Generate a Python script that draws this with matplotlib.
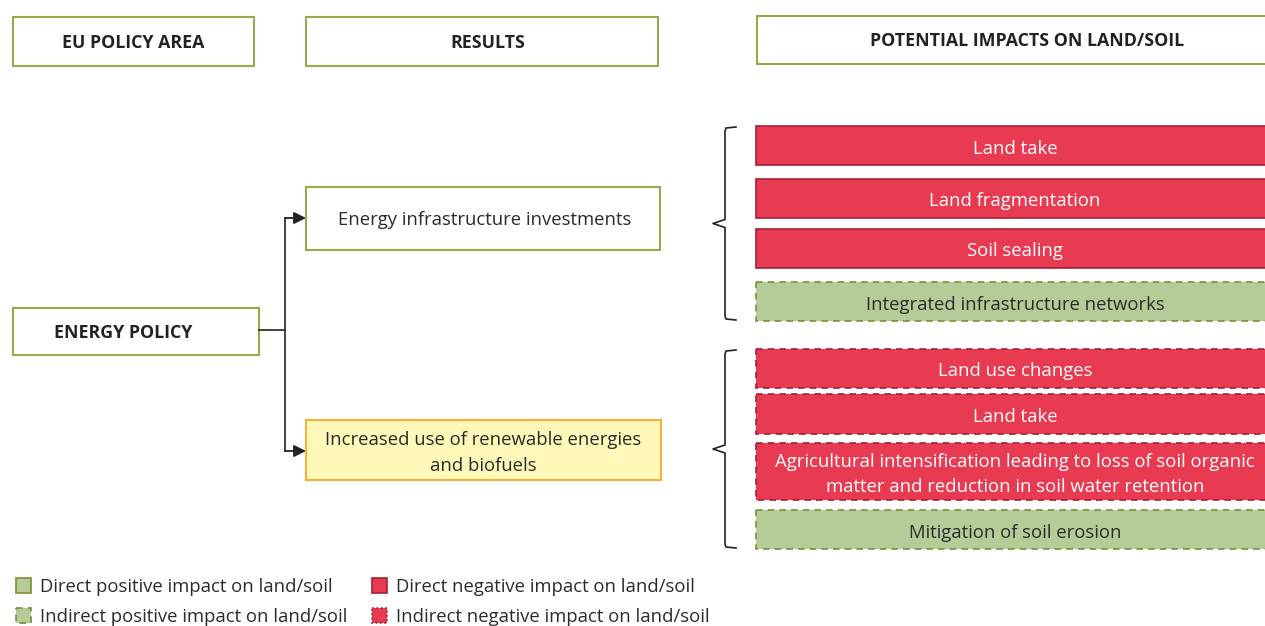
import matplotlib.pyplot as plt
from matplotlib.patches import Rectangle

plt.rcParams['font.family'] = ['Open Sans', 'DejaVu Sans']

# chart content
headers = ['EU POLICY AREA', 'RESULTS', 'POTENTIAL IMPACTS ON LAND/SOIL']
policy = 'ENERGY POLICY'
results = ['Energy infrastructure investments',
           'Increased use of renewable energies\nand biofuels']
impacts = ['Land take', 'Land fragmentation', 'Soil sealing',
           'Integrated infrastructure networks',
           'Land use changes', 'Land take',
           'Agricultural intensification leading to loss of soil organic\nmatter and reduction in soil water retention',
           'Mitigation of soil erosion']
impact_types = ['dn', 'dn', 'dn', 'ip', 'in', 'in', 'in', 'ip']
impact_group = [0, 0, 0, 0, 1, 1, 1, 1]
legend_labels = ['Direct positive impact on land/soil', 'Direct negative impact on land/soil',
                 'Indirect positive impact on land/soil', 'Indirect negative impact on land/soil']
legend_types = ['dp', 'dn', 'ip', 'in']

RED = '#e83a50'
RED_EDGE = '#a3203a'
GREEN = '#b4cc98'
GREEN_EDGE = '#7b8f36'
HEAD_EDGE = '#95ab50'
TXT = '#2b2b2b'
FS = 13.3

styles = {
    'dp': dict(fc=GREEN, ec=GREEN_EDGE, ls='-', tc=TXT),
    'dn': dict(fc=RED, ec=RED_EDGE, ls='-', tc='white'),
    'ip': dict(fc=GREEN, ec=GREEN_EDGE, ls=(0, (4, 3)), tc=TXT),
    'in': dict(fc=RED, ec=RED_EDGE, ls=(0, (4, 3)), tc='white'),
}

fig = plt.figure(figsize=(12.65, 6.26), dpi=100)
ax = fig.add_axes([0, 0, 1, 1])
ax.set_xlim(0, 1265)
ax.set_ylim(626, 0)
ax.axis('off')


def box(x0, y0, x1, y1, fc='white', ec=HEAD_EDGE, ls='-', lw=1.5):
    ax.add_patch(Rectangle((x0, y0), x1 - x0, y1 - y0, fc=fc, ec=ec, ls=ls, lw=lw))


# headers
head_pos = [(13, 17, 254, 66), (306, 17, 658, 66), (757, 16, 1280, 64)]
head_cx = [133, 488, 1027]
for (x0, y0, x1, y1), cx, h in zip(head_pos, head_cx, headers):
    box(x0, y0, x1, y1)
    ax.text(cx, (y0 + y1) / 2 + 1.5, h, ha='center', va='center',
            fontsize=12.8, fontweight='bold', color='#222222')

# policy box
box(13, 308, 259, 355)
ax.text(123, 333, policy, ha='center', va='center', fontsize=12.8, fontweight='bold', color='#222222')

# result boxes
box(306, 187, 660, 250)
ax.text(485, 220, results[0], ha='center', va='center', fontsize=FS, color=TXT)
box(306, 420, 661, 480, fc='#fff8b9', ec='#f5b135')
ax.text(483, 453, results[1], ha='center', va='center', fontsize=FS, color=TXT,
        linespacing=1.55)

# connectors
ax.plot([259, 285], [330, 330], color='#333333', lw=1.3)
ax.plot([285, 285], [218, 451], color='#333333', lw=1.3)
for yy in (218, 451):
    ax.annotate('', xy=(306, yy), xytext=(285, yy),
                arrowprops=dict(arrowstyle='-|>', color='#222222', lw=1.3,
                                mutation_scale=18, shrinkA=0, shrinkB=0))

# impact boxes
imp_y = [(126, 165), (179, 218), (229, 268), (282, 321),
         (349, 388), (394, 434), (443, 500), (510, 549)]
for (y0, y1), label, t in zip(imp_y, impacts, impact_types):
    s = styles[t]
    box(756, y0, 1280, y1, fc=s['fc'], ec=s['ec'], ls=s['ls'], lw=1.2)
    ax.text(1015, (y0 + y1) / 2 + 3, label, ha='center', va='center', fontsize=FS,
            color=s['tc'], linespacing=1.45)

# brackets around each impact group
for g in sorted(set(impact_group)):
    ys = [imp_y[i] for i in range(len(impacts)) if impact_group[i] == g]
    top, bot = ys[0][0] + 1, ys[-1][1] - 1
    mid = (top + bot) / 2
    ax.plot([736, 726, 725, 725, 713, 725, 725, 726, 736],
            [top, top + 1, top + 4, mid - 4, mid, mid + 4, bot - 4, bot - 1, bot],
            color='#222222', lw=1.2)

# legend
leg_pos = [(16, 585), (372, 585), (16, 615), (372, 615)]
for (lx, ly), lab, t in zip(leg_pos, legend_labels, legend_types):
    s = styles[t]
    ls = s['ls'] if t == 'ip' else (':' if t == 'in' else '-')
    ax.add_patch(Rectangle((lx, ly - 7.5), 15, 15, fc=s['fc'], ec=s['ec'], ls=ls, lw=1.2))
    ax.text(lx + 24, ly + 1.5, lab, ha='left', va='center', fontsize=FS, color=TXT)

fig.savefig('out.png', dpi=100)
